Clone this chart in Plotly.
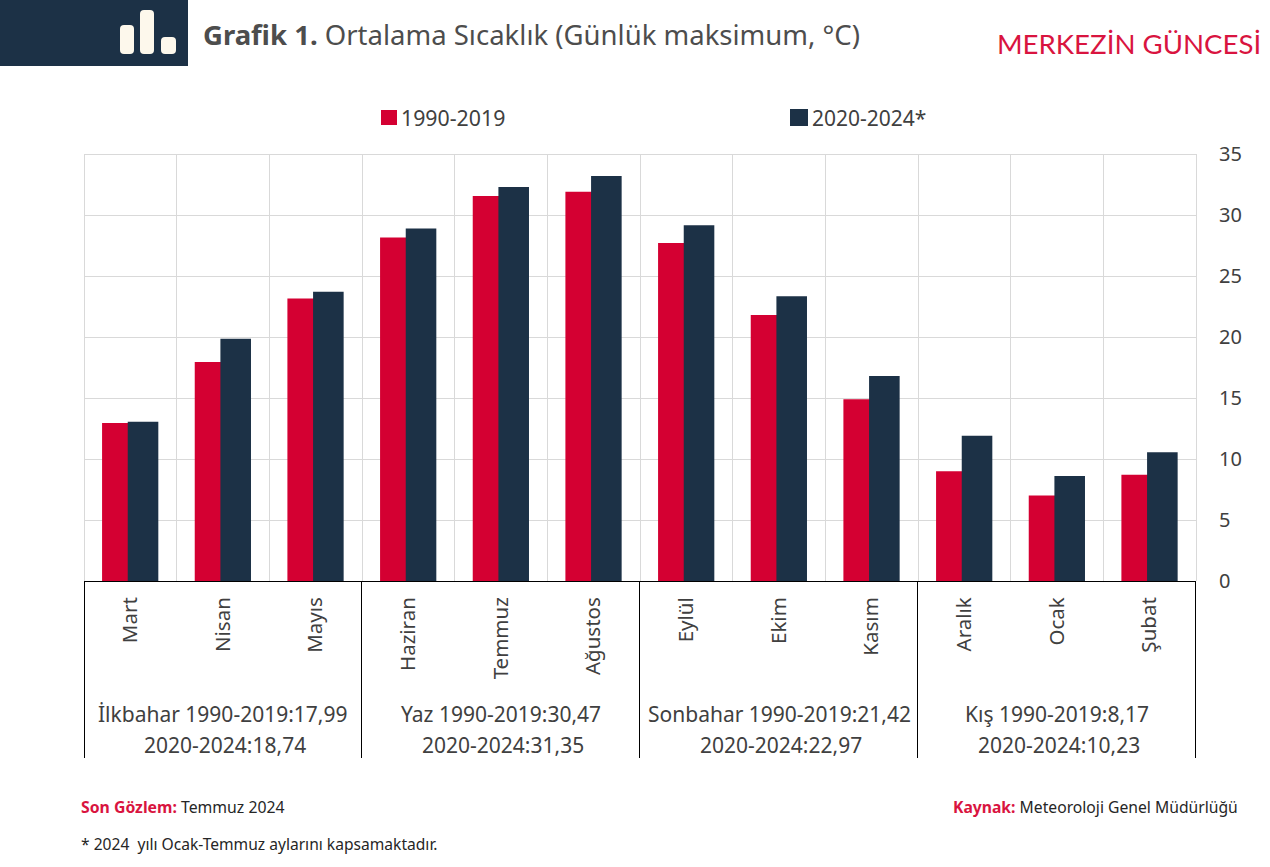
import plotly.graph_objects as go

months = ["Mart", "Nisan", "Mayıs", "Haziran", "Temmuz", "Ağustos",
          "Eylül", "Ekim", "Kasım", "Aralık", "Ocak", "Şubat"]
series_1_name = "1990-2019"
series_2_name = "2020-2024*"
series_1 = [12.95, 17.95, 23.15, 28.15, 31.55, 31.9, 27.7, 21.8, 14.9, 9.0, 7.0, 8.7]
series_2 = [13.05, 19.85, 23.7, 28.9, 32.3, 33.2, 29.15, 23.35, 16.8, 11.9, 8.6, 10.55]
season_line_1 = ["İlkbahar 1990-2019:17,99", "Yaz 1990-2019:30,47",
                 "Sonbahar 1990-2019:21,42", "Kış 1990-2019:8,17"]
season_line_2 = ["2020-2024:18,74", "2020-2024:31,35", "2020-2024:22,97", "2020-2024:10,23"]
y_ticks = [0, 5, 10, 15, 20, 25, 30, 35]

W, H = 1270, 867
L, R, T, B = 84, 1196, 154, 581
RED, NAVY, GREY, DARK = "#D40032", "#1C3146", "#D9D9D9", "#404040"
FONT = "Noto Sans"


def px(x):
    return (x - L) / (R - L)


def py(y):
    return (B - y) / (B - T)


fig = go.Figure()
fig.add_bar(name=series_1_name, x=months, y=series_1, marker_color=RED,
            marker_line_width=0, width=0.33, offset=-0.305)
fig.add_bar(name=series_2_name, x=months, y=series_2, marker_color=NAVY,
            marker_line_width=0, width=0.33, offset=-0.028)

shapes = [dict(type="rect", xref="paper", yref="paper", x0=px(0), x1=px(188), y0=py(66), y1=py(0),
               fillcolor=NAVY, line_width=0, layer="below")]


def rounded(x0, x1, y0, y1, r=4):
    a, b, c, d = px(x0), px(x1), py(y1), py(y0)
    rx, ry = r / (R - L), r / (B - T)
    return dict(type="path", xref="paper", yref="paper", fillcolor="#FDF8EC", line_width=0,
                path=f"M{a+rx},{d} L{b-rx},{d} Q{b},{d} {b},{d-ry} L{b},{c+ry} Q{b},{c} {b-rx},{c} "
                     f"L{a+rx},{c} Q{a},{c} {a},{c+ry} L{a},{d-ry} Q{a},{d} {a+rx},{d} Z")


shapes += [rounded(120, 134, 25, 54), rounded(140, 154, 10, 54), rounded(161, 176, 37, 54)]

# Plot frame: the grid lines that sit on the edges of the plot area
for (x0, y0, x1, y1) in [(84, 154.5, 1196, 154.5), (84.5, 154, 84.5, 581), (1196.5, 154, 1196.5, 581)]:
    shapes.append(dict(type="line", xref="paper", yref="paper", x0=px(x0), x1=px(x1), y0=py(y0), y1=py(y1),
                       line=dict(color=GREY, width=1), layer="below"))

# Season separators reach below the axis, on the category scale
half_pixel = 0.5 / ((R - L) / 12)
for b in [-0.5, 2.5, 5.5, 8.5, 11.5]:
    nudge = half_pixel if b == -0.5 else -half_pixel
    shapes.append(dict(type="line", xref="x", yref="paper", x0=b + nudge, x1=b + nudge,
                       y0=py(758), y1=py(581), line=dict(color="#000000", width=1)))

# Legend swatches
shapes.append(dict(type="rect", xref="paper", yref="paper", x0=px(381), x1=px(397), y0=py(125), y1=py(110),
                   fillcolor=RED, line_width=0))
shapes.append(dict(type="rect", xref="paper", yref="paper", x0=px(790), x1=px(808), y0=py(126), y1=py(109),
                   fillcolor=NAVY, line_width=0))


def note(x, y, text, size, color=DARK, anchor="left", font=FONT, xref="paper"):
    return dict(xref=xref, yref="paper", x=px(x) if xref == "paper" else x, y=py(y), text=text,
                showarrow=False, xanchor=anchor, yanchor="middle", align="center" if anchor == "center" else "left",
                font=dict(family=font, size=size, color=color))


annotations = [
    note(201, 35, "<b>Grafik 1.</b> Ortalama Sıcaklık (Günlük maksimum, °C)", 27.5, "#4D4D4D"),
    note(1263, 44, "MERKEZİN GÜNCESİ", 27.6, "#D9143F", anchor="right", font="Lato"),
    note(399, 118, series_1_name, 21.3),
    note(810, 118, series_2_name, 21),
    note(79, 807, "<b><span style='color:#D9143F'>Son Gözlem:</span></b> Temmuz 2024", 15.8, "#262626"),
    note(79, 844, "* 2024  yılı Ocak-Temmuz aylarını kapsamaktadır.", 15.6, "#262626"),
    note(1240, 807, "<b><span style='color:#D9143F'>Kaynak:</span></b> Meteoroloji Genel Müdürlüğü", 15.7, "#262626", anchor="right"),
]
second_line_shift = 0.025
for i, (s1, s2) in enumerate(zip(season_line_1, season_line_2)):
    annotations.append(note(1 + 3 * i, 714, s1, 21, anchor="center", xref="x"))
    annotations.append(note(1 + 3 * i + second_line_shift, 745, s2, 21, anchor="center", xref="x"))

fig.update_layout(
    width=W, height=H, autosize=False,
    margin=dict(l=L, r=W - R, t=T, b=H - B, pad=0),
    paper_bgcolor="white", plot_bgcolor="white",
    showlegend=False,
    shapes=shapes, annotations=annotations,
    font=dict(family=FONT, size=20, color=DARK),
    xaxis=dict(type="category", range=[-0.5, 11.5], tickson="boundaries", showgrid=True,
               gridcolor=GREY, gridwidth=1, tickangle=-90, ticks="", showline=True,
               linecolor="#000000", linewidth=1, ticklabelstandoff=7, tickfont=dict(size=20.5),
               zeroline=False),
    yaxis=dict(range=[0, 35], tickvals=y_ticks, side="right", showgrid=True, gridcolor=GREY,
               gridwidth=1, zeroline=False, ticks="", tickfont=dict(size=20), ticklabelstandoff=22),
)

fig.write_html("out.html", config=dict(displayModeBar=False),
               post_script="document.body.style.margin='0';window.dispatchEvent(new Event('resize'));")
